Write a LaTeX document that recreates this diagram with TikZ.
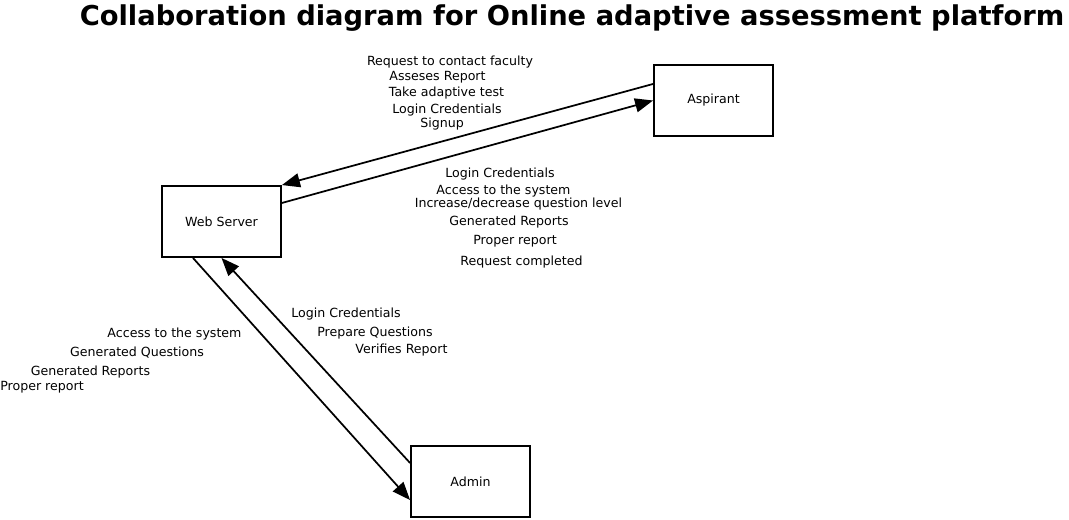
\documentclass[tikz,border=0pt]{standalone}
\usepackage{fontspec}
\setmainfont{DejaVu Sans}
\usetikzlibrary{positioning,arrows.meta}

\begin{document}
\begin{tikzpicture}[
x=0.75pt,y=-0.75pt,
box/.style={rectangle,draw,line width=1.4pt,align=center,minimum width=89.25pt,minimum height=53.25pt,font=\fontsize{9.45}{11}\selectfont},
arrow/.style={-{Triangle[length=13.5pt,width=10.5pt]},line width=1.3pt},
msg/.style={inner sep=0pt,font=\fontsize{9.45}{11}\selectfont}
]
\useasboundingbox (0,0) rectangle (1069,520);
\node[font=\bfseries\fontsize{20.5}{24}\selectfont] (title) at (572,18) {Collaboration diagram for Online adaptive assessment platform};
\node[box] (asp) at (713.5,100.5) {Aspirant};
\node[box] (web) at (221.5,221.5) {Web Server};
\node[box] (adm) at (470.5,481.5) {Admin};
\draw[arrow] ([yshift=12.4pt]asp.west)--(web.north east);
\draw[arrow] ([yshift=13.9pt]web.east)--(asp.west);
\draw[arrow] ([xshift=-21.4pt]web.south)--([yshift=-13.9pt]adm.west);
\draw[arrow] ([yshift=13.9pt]adm.west)--(web.south);
% aspirant to web server
\node[msg] (m1) at (450,62) {Request to contact faculty};
\node[msg] (m2) at (437.5,77) {Asseses Report};
\node[msg] (m3) at (446.5,93) {Take adaptive test};
\node[msg] (m4) at (447,110) {Login Credentials};
\node[msg] (m5) at (442,124) {Signup};
% web server to aspirant
\node[msg] (m6) at (500,174) {Login Credentials};
\node[msg] (m7) at (503.5,191) {Access to the system};
\node[msg] (m8) at (518.5,204) {Increase/decrease question level};
\node[msg] (m9) at (509,222) {Generated Reports};
\node[msg] (m10) at (515,241) {Proper report};
\node[msg] (m11) at (521.5,262) {Request completed};
% admin to web server
\node[msg] (m12) at (346,314) {Login Credentials};
\node[msg] (m13) at (375,333) {Prepare Questions};
\node[msg] (m14) at (401.5,350) {Verifies Report};
% web server to admin
\node[msg] (m15) at (174.5,334) {Access to the system};
\node[msg] (m16) at (137,353) {Generated Questions};
\node[msg] (m17) at (90.5,372) {Generated Reports};
\node[msg] (m18) at (42,387) {Proper report};
\end{tikzpicture}
\end{document}
